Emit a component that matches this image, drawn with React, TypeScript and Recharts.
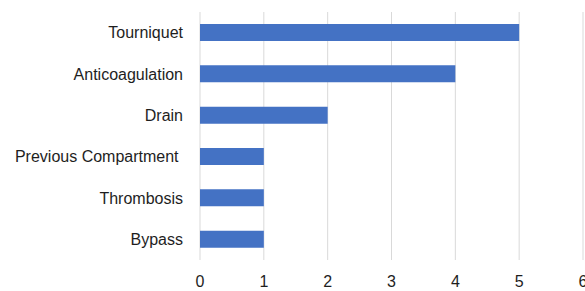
import React from "react";
import { BarChart, Bar, XAxis, YAxis, CartesianGrid } from "recharts";

const categories = ["Tourniquet", "Anticoagulation", "Drain", "Previous Compartment\u00a0", "Thrombosis", "Bypass"];
const values = [5, 4, 2, 1, 1, 1];
const xTicks = [0, 1, 2, 3, 4, 5, 6];

const data = categories.map((name, i) => ({ name, value: values[i] }));

const font = "'Liberation Sans', Arial, sans-serif";

export default function App() {
  return (
    <div style={{ position: "fixed", left: 0, top: 0, width: 585, height: 291, overflow: "hidden", background: "#fff" }}>
      <BarChart
        width={600}
        height={291}
        data={data}
        layout="vertical"
        margin={{ top: 12, right: 17, bottom: 0, left: 0 }}
      >
        <CartesianGrid horizontal={false} stroke="#d9d9d9" strokeWidth={1} />
        <XAxis
          type="number"
          domain={[0, 6]}
          ticks={xTicks}
          axisLine={false}
          tickLine={false}
          tickSize={0}
          tickMargin={16}
          height={31}
          interval={0}
          tick={{ fill: "#1e1e1e", fontSize: 16, fontFamily: font }}
        />
        <YAxis
          type="category"
          dataKey="name"
          width={200}
          axisLine={false}
          tickLine={false}
          tickSize={0}
          tickMargin={17}
          interval={0}
          tick={{ fill: "#1e1e1e", fontSize: 16, fontFamily: font }}
        />
        <Bar dataKey="value" fill="#4472C4" barSize={17} isAnimationActive={false} />
      </BarChart>
    </div>
  );
}
